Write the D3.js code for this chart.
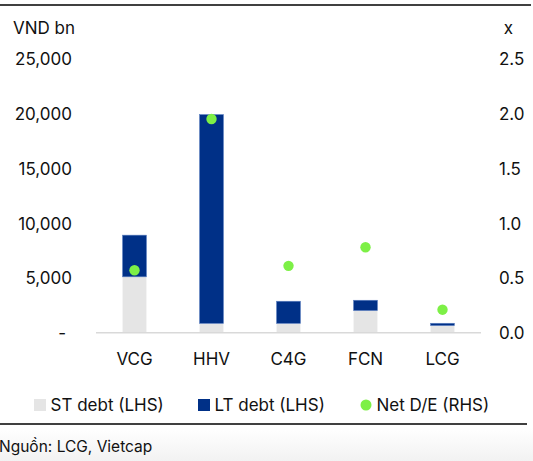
<!DOCTYPE html>
<html>
<head>
<meta charset="utf-8">
<script src="https://cdn.jsdelivr.net/npm/d3@7"></script>
<style>
  html, body { margin: 0; padding: 0; background: #fff; }
  svg { display: block; font-family: Inter, "Noto Sans", sans-serif; }
</style>
</head>
<body>
<svg id="chart"></svg>
<script>
// data
var categories = ["VCG", "HHV", "C4G", "FCN", "LCG"];
var stDebt = [5100, 850, 850, 2020, 650];
var ltDebt = [3800, 19050, 2020, 940, 210];
var netDE = [0.57, 1.95, 0.61, 0.78, 0.21];
var leftTicks = [0, 5000, 10000, 15000, 20000, 25000];
var rightTicks = [0, 0.5, 1.0, 1.5, 2.0, 2.5];

var width = 533, height = 461;
var colST = "#e5e5e5", colLT = "#003087", colDE = "#7df046";

var svg = d3.select("#chart").attr("width", width).attr("height", height);

// faint grey wash at the very bottom
var grad = svg.append("defs").append("linearGradient")
    .attr("id", "wash").attr("x1", 0).attr("y1", 0).attr("x2", 0).attr("y2", 1);
grad.append("stop").attr("offset", "0%").attr("stop-color", "#fff");
grad.append("stop").attr("offset", "100%").attr("stop-color", "#f2f2f2");
svg.append("rect").attr("x", 0).attr("y", 428).attr("width", width).attr("height", height - 428)
    .attr("fill", "url(#wash)");

var x = d3.scaleBand().domain(categories).range([96, 481]).paddingInner(0.69).paddingOuter(0.345);
var yL = d3.scaleLinear().domain([0, 25000]).range([332.7, 58.7]);
var yR = d3.scaleLinear().domain([0, 2.5]).range([332.7, 58.7]);

// frame lines
svg.append("line").attr("x1", 0).attr("x2", 531).attr("y1", 5).attr("y2", 5)
    .attr("stroke", "#000").attr("stroke-width", 1.4);
svg.append("line").attr("x1", 0).attr("x2", 527).attr("y1", 424).attr("y2", 424)
    .attr("stroke", "#000").attr("stroke-width", 1.4);

// bars
var g = svg.append("g");
g.selectAll("rect.st").data(categories).enter().append("rect")
    .attr("class", "st")
    .attr("x", function(d) { return x(d); })
    .attr("width", x.bandwidth())
    .attr("y", function(d, i) { return yL(stDebt[i]); })
    .attr("height", function(d, i) { return yL(0) - yL(stDebt[i]); })
    .attr("fill", colST);
g.selectAll("rect.lt").data(categories).enter().append("rect")
    .attr("class", "lt")
    .attr("x", function(d) { return x(d); })
    .attr("width", x.bandwidth())
    .attr("y", function(d, i) { return yL(stDebt[i] + ltDebt[i]); })
    .attr("height", function(d, i) { return yL(stDebt[i]) - yL(stDebt[i] + ltDebt[i]); })
    .attr("fill", colLT)
    .attr("stroke", "#5a7fc0").attr("stroke-width", 0.6);

// baseline
svg.append("line").attr("x1", 96).attr("x2", 481).attr("y1", yL(0)).attr("y2", yL(0))
    .attr("stroke", "#d9d9d9").attr("stroke-width", 1.5);

// net D/E dots
g.selectAll("circle.de").data(categories).enter().append("circle")
    .attr("class", "de")
    .attr("cx", function(d) { return x(d) + x.bandwidth() / 2; })
    .attr("cy", function(d, i) { return yR(netDE[i]); })
    .attr("r", 5.2)
    .attr("fill", colDE);

// left axis
var fmtL = function(v) { return v === 0 ? "-" : d3.format(",")(v); };
var axL = svg.append("g").attr("transform", "translate(72,0)")
    .call(d3.axisLeft(yL).tickValues(leftTicks).tickFormat(fmtL).tickSize(0).tickPadding(0));
axL.select(".domain").remove();
axL.selectAll("text").attr("font-size", 17).attr("font-family", "Inter, sans-serif")
    .attr("fill", "#111").attr("dy", "0.35em")
    .attr("dx", function(d) { return d === 0 ? -6 : 0; });

// right axis
var axR = svg.append("g").attr("transform", "translate(499,0)")
    .call(d3.axisRight(yR).tickValues(rightTicks).tickFormat(d3.format(".1f")).tickSize(0).tickPadding(0));
axR.select(".domain").remove();
axR.selectAll("text").attr("font-size", 17).attr("font-family", "Inter, sans-serif")
    .attr("fill", "#111").attr("dy", "0.35em");

// category axis
var axX = svg.append("g").attr("transform", "translate(0," + yL(0) + ")")
    .call(d3.axisBottom(x).tickSize(0).tickPadding(20));
axX.select(".domain").remove();
axX.selectAll("text").attr("font-size", 17).attr("font-family", "Inter, sans-serif")
    .attr("fill", "#111").attr("dy", "0.35em").attr("y", 26);

// unit labels
svg.append("text").attr("x", 13).attr("y", 28).attr("dy", "0.35em")
    .attr("font-size", 17).attr("fill", "#111").text("VND bn");
svg.append("text").attr("x", 508.5).attr("y", 28).attr("dy", "0.35em")
    .attr("text-anchor", "middle").attr("font-size", 17).attr("fill", "#111").text("x");

// legend
var legend = [
  { label: "ST debt (LHS)", color: colST, shape: "rect", x: 34 },
  { label: "LT debt (LHS)", color: colLT, shape: "rect", x: 198 },
  { label: "Net D/E (RHS)", color: colDE, shape: "circle", x: 360 }
];
var ly = 405;
var lg = svg.append("g").selectAll("g").data(legend).enter().append("g");
lg.each(function(d) {
  var s = d3.select(this);
  if (d.shape === "rect") {
    s.append("rect").attr("x", d.x).attr("y", ly - 6).attr("width", 12).attr("height", 12).attr("fill", d.color);
  } else {
    s.append("circle").attr("cx", d.x + 6).attr("cy", ly).attr("r", 5.5).attr("fill", d.color);
  }
  s.append("text").attr("x", d.x + 16.5).attr("y", ly).attr("dy", "0.35em")
    .attr("font-size", 17).attr("fill", "#111").text(d.label);
});

// source
svg.append("text").attr("x", -1).attr("y", 447).attr("dy", "0.35em")
    .attr("font-size", 15.5).attr("fill", "#111").text("Nguồn: LCG, Vietcap");
</script>
</body>
</html>
